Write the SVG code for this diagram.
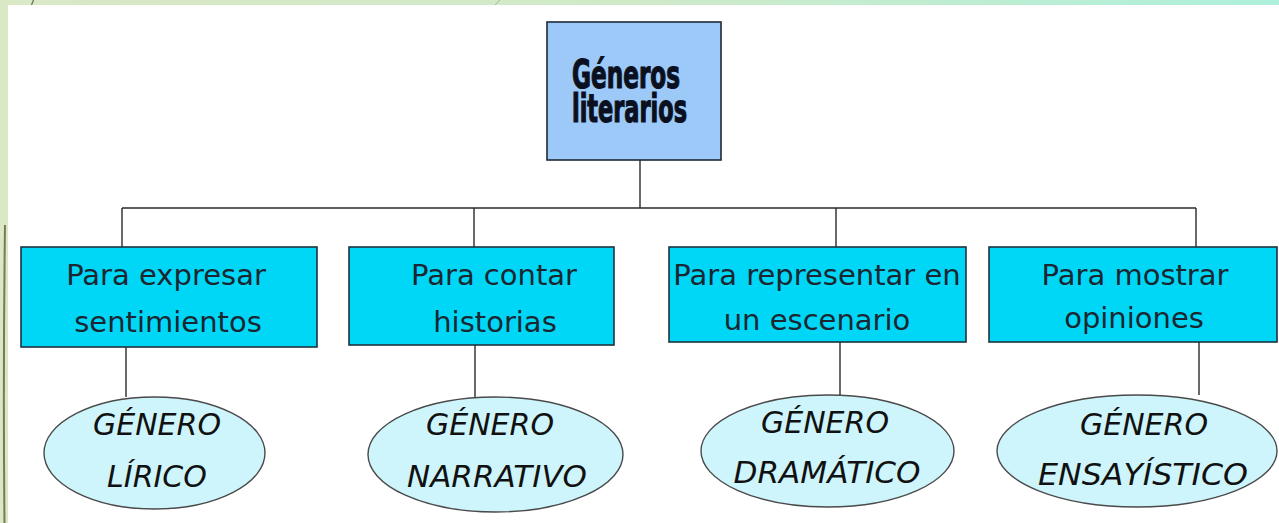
<svg xmlns="http://www.w3.org/2000/svg" width="1279" height="523" viewBox="0 0 1279 523">
  <defs>
    <linearGradient id="topband" x1="0" y1="0" x2="1" y2="0">
      <stop offset="0" stop-color="#dae8c6"/>
      <stop offset="0.5" stop-color="#cfeac8"/>
      <stop offset="1" stop-color="#aef0dc"/>
    </linearGradient>
    <style>
      .conn { stroke: #2a2a2a; stroke-width: 1.4; fill: none; }
      .top { fill: #9dc9f8; stroke: #1f2a36; stroke-width: 1.6; }
      .box { fill: #00d6f6; stroke: #1f3340; stroke-width: 1.6; }
      .ell { fill: #cdf5fb; stroke: #4a4a4a; stroke-width: 1.4; }
      .ttop { font-family: "Liberation Sans Narrow", "DejaVu Sans Condensed", "Liberation Sans", sans-serif; font-weight: 900; font-size: 29px; fill: #0b1020; stroke: #0b1020; stroke-width: 0.9; }
      .tbox { font-family: "DejaVu Sans", "Noto Sans", sans-serif; font-size: 29px; fill: #1b2630; text-anchor: middle; }
      .tell { font-family: "DejaVu Sans", "Noto Sans", sans-serif; font-style: italic; font-size: 30px; fill: #111; text-anchor: middle; }
    </style>
  </defs>

  <!-- background frame -->
  <rect x="0" y="0" width="1279" height="523" fill="#ffffff"/>
  <rect x="0" y="0" width="1279" height="5" fill="url(#topband)"/>
  <rect x="0" y="0" width="8" height="523" fill="#dae8c6"/>
  <path d="M5 225 Q3 380 4.5 523" stroke="#7c7a55" stroke-width="2" fill="none"/>
  <line x1="31.5" y1="5" x2="33.5" y2="0" stroke="#6f6c50" stroke-width="1.2"/>
  <line x1="495" y1="5" x2="500" y2="0" stroke="#a8b8a0" stroke-width="1"/>

  <g id="connectors">
    <line class="conn" x1="640" y1="160" x2="640" y2="208"/>
    <line class="conn" x1="122" y1="208" x2="1196" y2="208"/>
    <line class="conn" x1="122" y1="208" x2="122" y2="247"/>
    <line class="conn" x1="474" y1="208" x2="474" y2="247"/>
    <line class="conn" x1="836" y1="208" x2="836" y2="247"/>
    <line class="conn" x1="1196" y1="208" x2="1196" y2="247"/>
    <line class="conn" x1="126" y1="347" x2="126" y2="397"/>
    <line class="conn" x1="475" y1="345" x2="475" y2="397"/>
    <line class="conn" x1="840" y1="342" x2="840" y2="395"/>
    <line class="conn" x1="1199" y1="342" x2="1199" y2="395"/>
  </g>

  <g id="node-generos">
    <rect class="top" x="547" y="22" width="174" height="138"/>
    <text class="ttop" transform="matrix(1 0 0 1.35 0 0)" x="572" y="65.2" textLength="108" lengthAdjust="spacingAndGlyphs">Géneros</text>
    <text class="ttop" transform="matrix(1 0 0 1.35 0 0)" x="572" y="90.4" textLength="115" lengthAdjust="spacingAndGlyphs">literarios</text>
  </g>

  <g id="node-sentimientos">
    <rect class="box" x="21" y="247" width="296" height="100"/>
    <text class="tbox" x="166" y="285">Para expresar</text>
    <text class="tbox" x="168" y="332">sentimientos</text>
  </g>

  <g id="node-historias">
    <rect class="box" x="349" y="247" width="265" height="98"/>
    <text class="tbox" x="494" y="285">Para contar</text>
    <text class="tbox" x="495" y="332">historias</text>
  </g>

  <g id="node-escenario">
    <rect class="box" x="669" y="247" width="297" height="95"/>
    <text class="tbox" x="817" y="285">Para representar en</text>
    <text class="tbox" x="817" y="330">un escenario</text>
  </g>

  <g id="node-opiniones">
    <rect class="box" x="989" y="247" width="288" height="95"/>
    <text class="tbox" x="1135" y="285">Para mostrar</text>
    <text class="tbox" x="1134" y="328">opiniones</text>
  </g>

  <g id="node-lirico">
    <ellipse class="ell" cx="154.5" cy="453" rx="110.5" ry="56"/>
    <text class="tell" x="157" y="435">GÉNERO</text>
    <text class="tell" x="157" y="487">LÍRICO</text>
  </g>

  <g id="node-narrativo">
    <ellipse class="ell" cx="495.5" cy="454.5" rx="127.5" ry="57.5"/>
    <text class="tell" x="490" y="435">GÉNERO</text>
    <text class="tell" x="497" y="487" textLength="180" lengthAdjust="spacingAndGlyphs">NARRATIVO</text>
  </g>

  <g id="node-dramatico">
    <ellipse class="ell" cx="827.5" cy="451" rx="126.5" ry="56"/>
    <text class="tell" x="825" y="433">GÉNERO</text>
    <text class="tell" x="827" y="483" textLength="187" lengthAdjust="spacingAndGlyphs">DRAMÁTICO</text>
  </g>

  <g id="node-ensayistico">
    <ellipse class="ell" cx="1137" cy="451" rx="140" ry="56"/>
    <text class="tell" x="1144" y="435">GÉNERO</text>
    <text class="tell" x="1143" y="485" textLength="210" lengthAdjust="spacingAndGlyphs">ENSAYÍSTICO</text>
  </g>
</svg>
